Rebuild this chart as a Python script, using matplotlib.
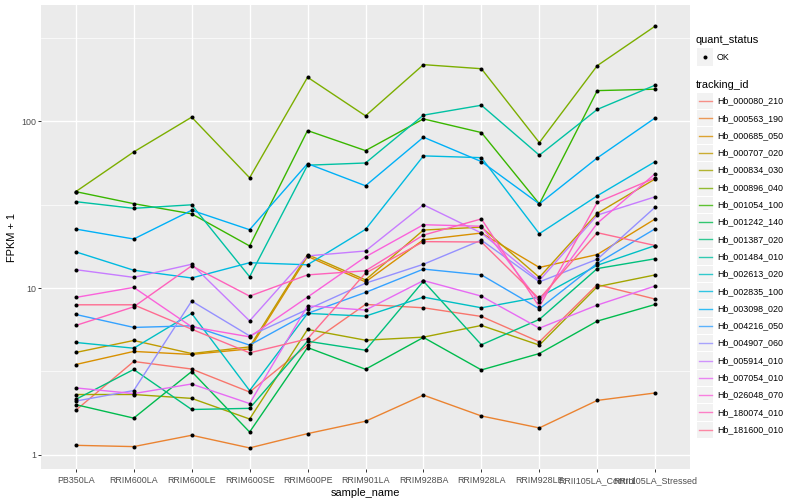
import numpy as np
import matplotlib
matplotlib.use('Agg')
import matplotlib.pyplot as plt
from matplotlib.patches import Rectangle
from matplotlib.lines import Line2D
from matplotlib.ticker import FixedLocator

plt.rcParams['font.family'] = ['Liberation Sans', 'DejaVu Sans']

samples = ['PB350LA', 'RRIM600LA', 'RRIM600LE', 'RRIM600SE', 'RRIM600PE', 'RRIM901LA',
           'RRIM928BA', 'RRIM928LA', 'RRIM928LE', 'RRII105LA_Control', 'RRII105LA_Stressed']

tracking_ids = ['Hb_000080_210', 'Hb_000563_190', 'Hb_000685_050', 'Hb_000707_020',
                'Hb_000834_030', 'Hb_000896_040', 'Hb_001054_100', 'Hb_001242_140',
                'Hb_001387_020', 'Hb_001484_010', 'Hb_002613_020', 'Hb_002835_100',
                'Hb_003098_020', 'Hb_004216_050', 'Hb_004907_060', 'Hb_005914_010',
                'Hb_007054_010', 'Hb_026048_070', 'Hb_180074_010', 'Hb_181600_010']

# FPKM + 1 per gene, one value per sample
hb_000080_210 = [1.85, 3.63, 3.27, 2.38, 4.55, 7.98, 7.62, 6.76, 4.76, 10.5, 8.59]
hb_000563_190 = [1.14, 1.12, 1.31, 1.10, 1.34, 1.59, 2.28, 1.71, 1.45, 2.12, 2.35]
hb_000685_050 = [3.48, 4.17, 4.00, 4.32, 15.5, 10.9, 19.5, 21.4, 13.3, 15.9, 26.0]
hb_000707_020 = [4.11, 4.85, 4.05, 4.44, 15.9, 11.2, 22.3, 23.2, 11.6, 28.1, 45.2]
hb_000834_030 = [2.30, 2.30, 2.18, 1.64, 5.65, 4.87, 5.08, 5.97, 4.55, 10.2, 12.0]
hb_000896_040 = [37.9, 65.6, 106, 45.9, 184, 108, 219, 207, 74.6, 216, 373]
hb_001054_100 = [37.9, 32.1, 27.9, 17.9, 88.1, 66.8, 103.5, 85.7, 32.0, 153, 156]
hb_001242_140 = [2.00, 1.66, 3.16, 1.37, 4.40, 3.26, 5.06, 3.23, 4.05, 6.34, 7.98]
hb_001387_020 = [2.15, 3.25, 1.87, 1.90, 4.80, 4.24, 11.0, 4.57, 6.49, 13.1, 15.0]
hb_001484_010 = [33.0, 30.1, 31.6, 11.7, 54.6, 56.3, 109, 125, 62.7, 118, 165]
hb_002613_020 = [4.72, 4.36, 7.05, 2.43, 7.05, 6.79, 8.83, 7.62, 8.83, 13.7, 18.0]
hb_002835_100 = [16.5, 12.8, 11.5, 14.2, 13.8, 22.5, 62.1, 60.6, 21.2, 35.8, 57.4]
hb_003098_020 = [22.6, 19.7, 29.3, 22.4, 55.8, 41.1, 80.4, 57.4, 32.0, 60.4, 105]
hb_004216_050 = [6.95, 5.81, 5.94, 4.55, 7.05, 9.42, 13.0, 12.0, 7.51, 14.1, 22.7]
hb_004907_060 = [2.10, 2.43, 8.36, 5.17, 7.45, 10.7, 13.9, 19.4, 10.9, 14.9, 30.6]
hb_005914_010 = [12.9, 11.6, 13.9, 6.36, 15.6, 16.7, 31.6, 21.4, 11.1, 27.4, 35.3]
hb_007054_010 = [2.52, 2.33, 2.66, 2.03, 7.83, 7.38, 11.1, 8.95, 5.75, 7.91, 10.3]
hb_026048_070 = [8.79, 10.1, 5.86, 5.10, 8.83, 15.4, 24.0, 23.5, 8.27, 24.5, 48.6]
hb_180074_010 = [5.97, 7.72, 13.6, 8.95, 12.0, 12.7, 20.8, 26.0, 7.72, 32.7, 45.8]
hb_181600_010 = [7.94, 7.94, 5.67, 4.09, 4.96, 12.3, 19.0, 18.9, 8.62, 21.5, 18.0]

series = [hb_000080_210, hb_000563_190, hb_000685_050, hb_000707_020, hb_000834_030,
          hb_000896_040, hb_001054_100, hb_001242_140, hb_001387_020, hb_001484_010,
          hb_002613_020, hb_002835_100, hb_003098_020, hb_004216_050, hb_004907_060,
          hb_005914_010, hb_007054_010, hb_026048_070, hb_180074_010, hb_181600_010]

# ggplot2 default hue palette for 20 levels
colors = ['#F8766D', '#EA8331', '#D89000', '#C09B00', '#A3A500', '#7CAE00', '#39B600',
          '#00BB4E', '#00BF7D', '#00C1A3', '#00BFC4', '#00BAE0', '#00B0F6', '#35A2FF',
          '#9590FF', '#C77CFF', '#E76BF3', '#FA62DB', '#FF62BC', '#FF6C91']

W, H = 800, 500
fig = plt.figure(figsize=(8, 5), dpi=100)
fig.patch.set_facecolor('white')

def fx(x):
    return x / W

def fy(y):
    return 1 - y / H

# panel in pixel coords: x 41..690, y 5..469
ax = fig.add_axes([fx(41), fy(469), fx(690) - fx(41), fy(5) - fy(469)])
ax.set_facecolor('#EBEBEB')
for s in ax.spines.values():
    s.set_visible(False)

x = np.arange(len(samples))
for vals, c in zip(series, colors):
    ax.plot(x, vals, color=c, lw=1.0, zorder=2)
for vals in series:
    ax.plot(x, vals, 'o', color='black', ms=2.9, mew=0, zorder=3)

ax.set_yscale('log')
allv = np.log10(np.concatenate([np.array(v) for v in series]))
lo, hi = allv.min(), allv.max()
pad = 0.05 * (hi - lo)
ax.set_ylim(10 ** (lo - pad), 10 ** (hi + pad))
ax.set_xlim(-0.6, len(samples) - 0.4)

ax.set_yticks([1, 10, 100], labels=['1', '10', '100'])
ax.yaxis.set_minor_locator(FixedLocator([10 ** 0.5, 10 ** 1.5, 10 ** 2.5]))
ax.yaxis.set_minor_formatter(plt.NullFormatter())
ax.set_xticks(x, labels=samples)

ax.set_axisbelow(True)
ax.grid(which='major', color='white', lw=1.0, zorder=0)
ax.grid(which='minor', axis='y', color='white', lw=0.5, zorder=0)
ax.tick_params(which='major', length=2.0, width=0.7, color='#333333',
               labelsize=6.4, labelcolor='#4D4D4D', pad=1.6)
ax.tick_params(axis='x', which='major', pad=3.2)
ax.tick_params(which='minor', length=0)

fig.text(fx(365), fy(493), 'sample_name', ha='center', va='center', fontsize=7.9)
fig.text(fx(12), fy(237), 'FPKM + 1', ha='center', va='center', fontsize=7.9, rotation=90)

# legends drawn ggplot-style
kx0, kw, kh = 697, 16, 17.3
fig.text(fx(696), fy(40), 'quant_status', ha='left', va='center', fontsize=7.9)
yc = 57
fig.add_artist(Rectangle((fx(kx0), fy(yc + kh / 2)), kw / W, kh / H,
                         transform=fig.transFigure, facecolor='#F2F2F2', edgecolor='none'))
fig.add_artist(Line2D([fx(kx0 + kw / 2)], [fy(yc)], marker='o', ms=2.9, mew=0,
                      color='black', transform=fig.transFigure))
fig.text(fx(717), fy(yc), 'OK', ha='left', va='center', fontsize=6.4)

fig.text(fx(696), fy(85), 'tracking_id', ha='left', va='center', fontsize=7.9)
for i, (name, c) in enumerate(zip(tracking_ids, colors)):
    yc = 101 + 17.3 * i
    fig.add_artist(Rectangle((fx(kx0), fy(yc + kh / 2 - 0.5)), kw / W, (kh - 1) / H,
                             transform=fig.transFigure, facecolor='#F2F2F2', edgecolor='none'))
    fig.add_artist(Line2D([fx(kx0 + 1.5), fx(kx0 + kw - 1.5)], [fy(yc), fy(yc)], color=c,
                          lw=1.0, alpha=0.8, transform=fig.transFigure))
    fig.text(fx(717), fy(yc), name, ha='left', va='center', fontsize=6.4)

fig.savefig('out.png', dpi=100)
